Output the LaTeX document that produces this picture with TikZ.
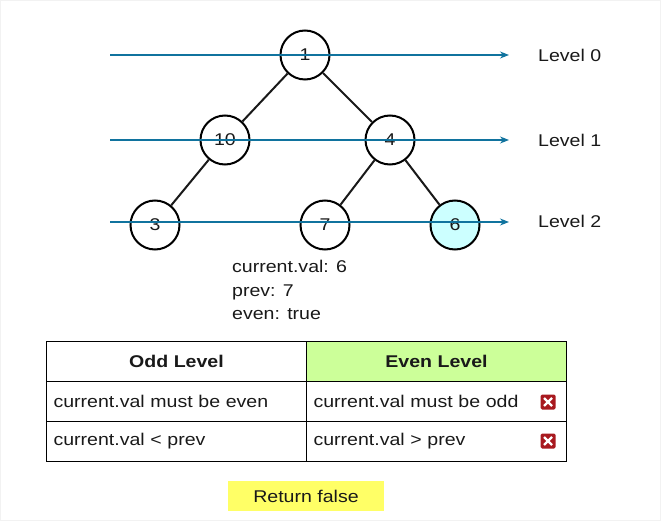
\documentclass[tikz,border=0pt]{standalone}
\usepackage{fontspec}
\setmainfont{Liberation Sans}[FakeStretch=1.15]
\usetikzlibrary{arrows.meta, positioning}
\definecolor{levelblue}{HTML}{10739E}
\definecolor{hitcyan}{HTML}{CCFFFF}
\definecolor{evengreen}{HTML}{CCFF99}
\definecolor{retyellow}{HTML}{FFFF66}
\definecolor{failred}{HTML}{A8191F}

\begin{document}
\begin{tikzpicture}[
        x=1pt, y=-1pt, node distance=85pt, on grid, >={Stealth[length=9pt,width=7pt]},
        every node/.style={font=\fontsize{17}{23.5}\selectfont, text=black!90},
        tnode/.style={circle, draw=black, line width=2pt, fill=white, minimum size=49pt, inner sep=0pt},
        edge/.style={line width=2pt, black!90},
        level/.style={->, levelblue, line width=1.1pt},
        cell/.style={draw=black, line width=1pt, minimum width=260pt, minimum height=40pt, inner sep=0pt},
        rowcell/.style={cell, text width=246pt, inner xsep=7pt, align=left},
        xicon/.style={fill=failred, rounded corners=1.5pt, minimum size=15pt, inner sep=0pt,
            path picture={\draw[white, line width=2.4pt]
                ([shift={(3.5pt,3.5pt)}]path picture bounding box.south west) --
                ([shift={(-3.5pt,-3.5pt)}]path picture bounding box.north east)
                ([shift={(3.5pt,-3.5pt)}]path picture bounding box.north west) --
                ([shift={(-3.5pt,3.5pt)}]path picture bounding box.south east);}},
        ]
        \useasboundingbox (0,0) rectangle (661,521);
        \draw[black!5] (0.5,0.5) rectangle (660.5,520.5);

        % tree
        \node[tnode] (n1) at (305,55) {1};
        \node[tnode] (n10) [below left=85pt and 80pt of n1] {10};
        \node[tnode] (n4) [below right=85pt and 85pt of n1] {4};
        \node[tnode] (n3) [below left=85pt and 70pt of n10] {3};
        \node[tnode] (n7) [below left=85pt and 65pt of n4] {7};
        \node[tnode, fill=hitcyan] (n6) [below right=85pt and 65pt of n4] {6};

        \draw[edge] (n1) -- (n10);
        \draw[edge] (n1) -- (n4);
        \draw[edge] (n10) -- (n3);
        \draw[edge] (n4) -- (n7);
        \draw[edge] (n4) -- (n6);

        % levels
        \coordinate (l0a) at (110,55);  \coordinate (l0b) at (509,55);
        \coordinate (l1a) at (110,140); \coordinate (l1b) at (509,140);
        \coordinate (l2a) at (110,222); \coordinate (l2b) at (509,222);
        \draw[level] (l0a) -- (l0b);
        \draw[level] (l1a) -- (l1b);
        \draw[level] (l2a) -- (l2b);
        \node[anchor=west, inner sep=0pt] (lab0) at (538,55) {Level 0};
        \node[anchor=west, inner sep=0pt] (lab1) at (538,140) {Level 1};
        \node[anchor=west, inner sep=0pt] (lab2) at (538,221) {Level 2};

        \node[anchor=north west, align=left, inner sep=0pt] (info) at (232,260)
            {current.val: 6\\prev: 7\\even: true};

        % table
        \node[cell, font=\fontsize{17}{19}\selectfont\bfseries] (oddhead) at (176.5,361) {Odd Level};
        \node[cell, fill=evengreen, font=\fontsize{17}{19}\selectfont\bfseries] (evenhead) at (436.5,361) {Even Level};
        \node[rowcell] (oddval) at (176.5,401) {current.val must be even};
        \node[rowcell] (evenval) at (436.5,401) {current.val must be odd};
        \node[rowcell] (oddcmp) at (176.5,441) {current.val < prev};
        \node[rowcell] (evencmp) at (436.5,441) {current.val > prev};
        \node[xicon] (xval) at (548,402) {};
        \node[xicon] (xcmp) at (548,441) {};

        \node[fill=retyellow, minimum width=156pt, minimum height=30pt, inner sep=0pt] (ret) at (306,496) {Return false};
      \end{tikzpicture}
\end{document}
